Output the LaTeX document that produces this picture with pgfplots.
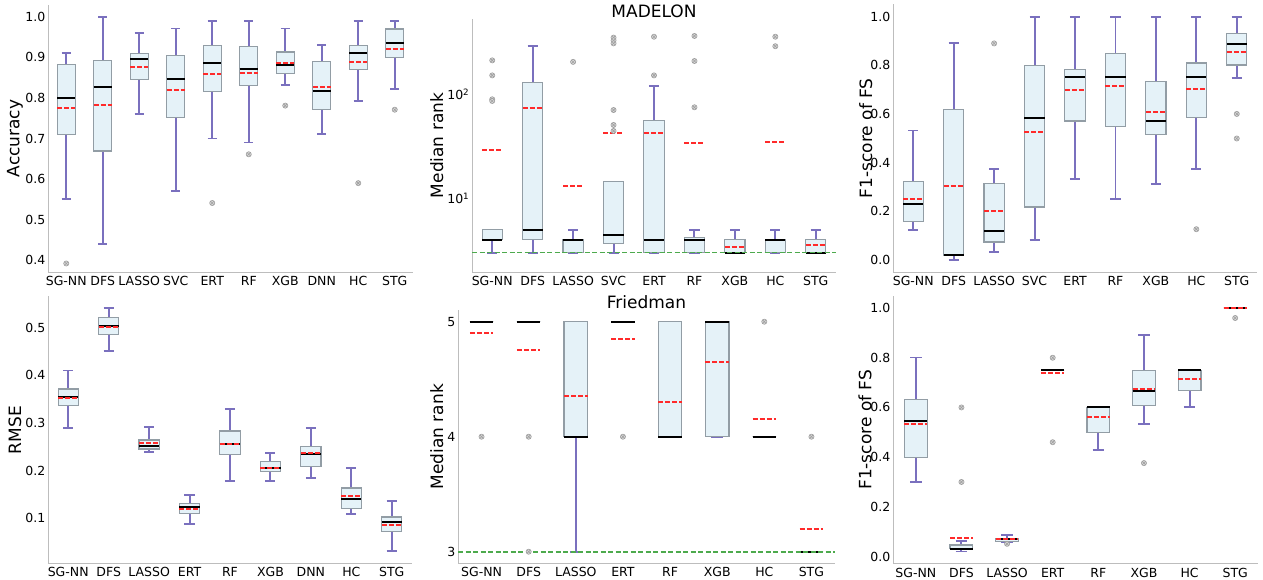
\documentclass[border=0pt]{standalone}
\usepackage{fontspec}
\setmainfont{DejaVu Sans}
\usepackage{pgfplots}
\pgfplotsset{compat=1.18}
\usepgfplotslibrary{statistics}

\definecolor{boxfill}{HTML}{E5F2F8}
\definecolor{boxedge}{HTML}{929DA5}
\definecolor{whisk}{HTML}{7A70BE}
\definecolor{meanred}{HTML}{FF2A2A}
\definecolor{spine}{HTML}{BDBDBD}
\definecolor{refgreen}{HTML}{4DAA4D}

\pgfplotsset{
  panel/.style={
    scale only axis, anchor=south west,
    axis x line*=bottom, axis y line*=left,
    axis line style={draw=spine, line width=0.9pt, -},
    major tick length=0pt, minor tick length=0pt,
    /pgf/number format/assume math mode=true,
    tick label style={font=\fontsize{12.5}{14}\selectfont},
    xticklabel style={inner sep=0pt, yshift=-4pt},
    yticklabel style={inner sep=0pt, xshift=-2.5pt},
    label style={font=\fontsize{17}{20}\selectfont},
    ylabel style={anchor=center},
    title style={font=\fontsize{17}{20}\selectfont, at={(0.5,1)}, anchor=base, yshift=-4.5pt},
    boxplot/draw direction=y,
    boxplot/box extend=0.5,
    boxplot/whisker extend=0.25,
    boxplot/every box/.style={draw=boxedge, fill=boxfill, line width=1.2pt},
    boxplot/every whisker/.style={draw=whisk, line width=1.9pt},
    boxplot/every median/.style={draw=black, line width=2pt},
  },
  onedec/.style={yticklabel style={/pgf/number format/.cd, fixed, fixed zerofill, precision=1}},
  bx/.style={draw=boxedge, mark=otimes*, mark size=2.6pt,
    mark options={draw=gray!75, fill=gray!30, line width=0.6pt, solid}},
  % mean: a dashed segment across the box, drawn left to right
  meanl/.style={draw=none, mark=none, x filter/.expression={x-0.25},
    error bars/.cd, x dir=plus, x fixed=0.5, error mark=none,
    error bar style={draw=meanred, line width=2pt, dash pattern=on 5pt off 2pt}},
  refl/.style={draw=refgreen, line width=1.7pt, dash pattern=on 5pt off 2.5pt, mark=none},
}

% draw position, lower whisker, lower quartile, median, upper quartile, upper whisker, outliers
\newcommand{\bp}[7]{\addplot[bx, boxplot prepared={draw position=#1, lower whisker=#2,
  lower quartile=#3, median=#4, upper quartile=#5, upper whisker=#6}] coordinates {#7};}

\begin{document}
\begin{tikzpicture}
\useasboundingbox (0,0) rectangle (1263pt,580pt);

% ---- top left: accuracy
\begin{axis}[panel, onedec, at={(48pt,308pt)}, width=365pt, height=267pt,
  xmin=0.5, xmax=10.5, ymin=0.371, ymax=1.029,
  xtick={1,2,3,4,5,6,7,8,9,10},
  xticklabels={SG-NN,DFS,LASSO,SVC,ERT,RF,XGB,DNN,HC,STG},
  ytick={0.4,0.5,0.6,0.7,0.8,0.9,1.0},
  ylabel={Accuracy}, ylabel style={at={(axis description cs:-0.0904,0.5)}}]
\bp{1}{0.55}{0.709}{0.80}{0.882}{0.91}{(1,0.392)}
\bp{2}{0.44}{0.669}{0.826}{0.892}{1.0}{}
\bp{3}{0.761}{0.846}{0.896}{0.91}{0.961}{}
\bp{4}{0.57}{0.752}{0.846}{0.905}{0.971}{}
\bp{5}{0.70}{0.816}{0.886}{0.93}{0.99}{(5,0.541)}
\bp{6}{0.69}{0.83}{0.872}{0.927}{0.99}{(6,0.661)}
\bp{7}{0.831}{0.861}{0.881}{0.913}{0.971}{(7,0.781)}
\bp{8}{0.711}{0.772}{0.816}{0.89}{0.931}{}
\bp{9}{0.792}{0.871}{0.911}{0.93}{0.99}{(9,0.59)}
\bp{10}{0.821}{0.9}{0.936}{0.97}{0.99}{(10,0.771)}
\addplot[meanl] coordinates {(1,0.775)(2,0.783)(3,0.876)(4,0.819)(5,0.859)
  (6,0.862)(7,0.887)(8,0.826)(9,0.888)(10,0.921)};
\end{axis}

% ---- top middle: MADELON median rank (log)
\begin{axis}[panel, at={(472pt,308pt)}, width=364pt, height=253pt,
  xmin=0.5, xmax=9.5, ymode=log, ymin=1.954, ymax=530,
  xtick={1,2,3,4,5,6,7,8,9},
  xticklabels={SG-NN,DFS,LASSO,SVC,ERT,RF,XGB,HC,STG},
  ytick={10,100}, yticklabels={10\textsuperscript{1},10\textsuperscript{2}},
  title={MADELON},
  ylabel={Median rank}, ylabel style={at={(axis description cs:-0.097,0.5)}}]
\bp{1}{3}{4}{4}{5}{5}{(1,212)(1,152)(1,89.5)(1,86.3)}
\bp{2}{3}{4}{5}{130}{294}{}
\bp{3}{3}{3}{4}{4}{5}{(3,205)}
\bp{4}{3}{3.66}{4.44}{14.5}{14.5}{(4,351)(4,330)(4,309)(4,70.6)(4,50.7)(4,44.4)}
\bp{5}{3}{3}{4}{56.3}{119}{(5,358)(5,152)}
\bp{6}{3}{3}{4}{4.19}{5}{(6,364)(6,209)(6,75)}
\bp{7}{3}{3}{3}{4}{5}{}
\bp{8}{3}{3}{4}{4}{5}{(8,358)(8,290)}
\bp{9}{3}{3}{3}{4}{5}{}
\addplot[meanl] coordinates {(1,29.4)(2,74.5)(3,13.2)(4,42.8)(5,42.8)
  (6,34.3)(7,3.38)(8,34.5)(9,3.53)};
\addplot[refl] coordinates {(0.5,3)(9.5,3)};
\end{axis}

% ---- top right: F1-score MADELON
\begin{axis}[panel, onedec, at={(893pt,308pt)}, width=364pt, height=267.5pt,
  xmin=0.5, xmax=9.5, ymin=-0.05, ymax=1.05,
  xtick={1,2,3,4,5,6,7,8,9},
  xticklabels={SG-NN,DFS,LASSO,SVC,ERT,RF,XGB,HC,STG},
  ytick={0,0.2,0.4,0.6,0.8,1.0},
  ylabel={F1-score of FS}, ylabel style={at={(axis description cs:-0.075,0.5)}}]
\bp{1}{0.121}{0.157}{0.228}{0.323}{0.532}{}
\bp{2}{0.0}{0.018}{0.018}{0.617}{0.89}{}
\bp{3}{0.034}{0.073}{0.117}{0.315}{0.374}{(3,0.89)}
\bp{4}{0.082}{0.217}{0.585}{0.8}{1.0}{}
\bp{5}{0.334}{0.571}{0.75}{0.784}{1.0}{}
\bp{6}{0.249}{0.548}{0.75}{0.848}{1.0}{}
\bp{7}{0.312}{0.514}{0.57}{0.732}{1.0}{}
\bp{8}{0.375}{0.584}{0.75}{0.809}{1.0}{(8,0.126)}
\bp{9}{0.749}{0.801}{0.889}{0.93}{1.0}{(9,0.6)(9,0.499)}
\addplot[meanl] coordinates {(1,0.251)(2,0.305)(3,0.202)(4,0.527)(5,0.698)
  (6,0.713)(7,0.609)(8,0.703)(9,0.856)};
\end{axis}

% ---- bottom left: RMSE
\begin{axis}[panel, onedec, at={(48pt,16.5pt)}, width=364pt, height=267pt,
  xmin=0.5, xmax=9.5, ymin=0.0045, ymax=0.5655,
  xtick={1,2,3,4,5,6,7,8,9},
  xticklabels={SG-NN,DFS,LASSO,ERT,RF,XGB,DNN,HC,STG},
  ytick={0.1,0.2,0.3,0.4,0.5},
  ylabel={RMSE}, ylabel style={at={(axis description cs:-0.0907,0.5)}}]
\bp{1}{0.290}{0.337}{0.354}{0.371}{0.41}{}
\bp{2}{0.451}{0.485}{0.503}{0.522}{0.541}{}
\bp{3}{0.238}{0.245}{0.252}{0.264}{0.292}{}
\bp{4}{0.088}{0.110}{0.123}{0.131}{0.148}{}
\bp{5}{0.177}{0.234}{0.255}{0.283}{0.329}{}
\bp{6}{0.178}{0.198}{0.205}{0.219}{0.237}{}
\bp{7}{0.185}{0.209}{0.235}{0.251}{0.289}{}
\bp{8}{0.109}{0.12}{0.141}{0.163}{0.206}{}
\bp{9}{0.03}{0.071}{0.092}{0.102}{0.136}{}
\addplot[meanl] coordinates {(1,0.353)(2,0.502)(3,0.257)(4,0.12)(5,0.256)
  (6,0.205)(7,0.236)(8,0.147)(9,0.086)};
\end{axis}

% ---- bottom middle: Friedman median rank
\begin{axis}[panel, at={(458pt,16.8pt)}, width=377pt, height=253pt,
  xmin=0.5, xmax=8.5, ymin=2.9, ymax=5.1,
  xtick={1,2,3,4,5,6,7,8},
  xticklabels={SG-NN,DFS,LASSO,ERT,RF,XGB,HC,STG},
  ytick={3,4,5},
  title={Friedman},
  ylabel={Median rank}, ylabel style={at={(axis description cs:-0.0565,0.5)}}]
\bp{1}{5}{5}{5}{5}{5}{(1,4)}
\bp{2}{5}{5}{5}{5}{5}{(2,4)(2,3)}
\bp{3}{3}{4}{4}{5}{5}{}
\bp{4}{5}{5}{5}{5}{5}{(4,4)}
\bp{5}{4}{4}{4}{5}{5}{}
\bp{6}{4}{4}{5}{5}{5}{}
\bp{7}{4}{4}{4}{4}{4}{(7,5)}
\bp{8}{3}{3}{3}{3}{3}{(8,4)}
\addplot[meanl] coordinates {(1,4.90)(2,4.75)(3,4.35)(4,4.85)(5,4.30)
  (6,4.65)(7,4.15)(8,3.20)};
\addplot[refl] coordinates {(0.5,3)(8.5,3)};
\end{axis}

% ---- bottom right: F1-score Friedman
\begin{axis}[panel, onedec, at={(893pt,16.3pt)}, width=365pt, height=267.8pt,
  xmin=0.5, xmax=8.5, ymin=-0.029, ymax=1.049,
  xtick={1,2,3,4,5,6,7,8},
  xticklabels={SG-NN,DFS,LASSO,ERT,RF,XGB,HC,STG},
  ytick={0,0.2,0.4,0.6,0.8,1.0},
  ylabel={F1-score of FS}, ylabel style={at={(axis description cs:-0.0767,0.5)}}]
\bp{1}{0.299}{0.4}{0.545}{0.631}{0.801}{}
\bp{2}{0.02}{0.031}{0.031}{0.046}{0.062}{(2,0.6)(2,0.3)}
\bp{3}{0.06}{0.06}{0.072}{0.074}{0.085}{(3,0.051)}
\bp{4}{0.75}{0.75}{0.75}{0.75}{0.75}{(4,0.8)(4,0.46)}
\bp{5}{0.428}{0.5}{0.6}{0.6}{0.6}{}
\bp{6}{0.532}{0.609}{0.667}{0.75}{0.89}{(6,0.376)}
\bp{7}{0.6}{0.667}{0.75}{0.75}{0.75}{}
\bp{8}{1.0}{1.0}{1.0}{1.0}{1.0}{(8,0.96)}
\addplot[meanl] coordinates {(1,0.534)(2,0.075)(3,0.07)(4,0.738)(5,0.562)
  (6,0.674)(7,0.714)(8,1.0)};
\end{axis}
\end{tikzpicture}
\end{document}
